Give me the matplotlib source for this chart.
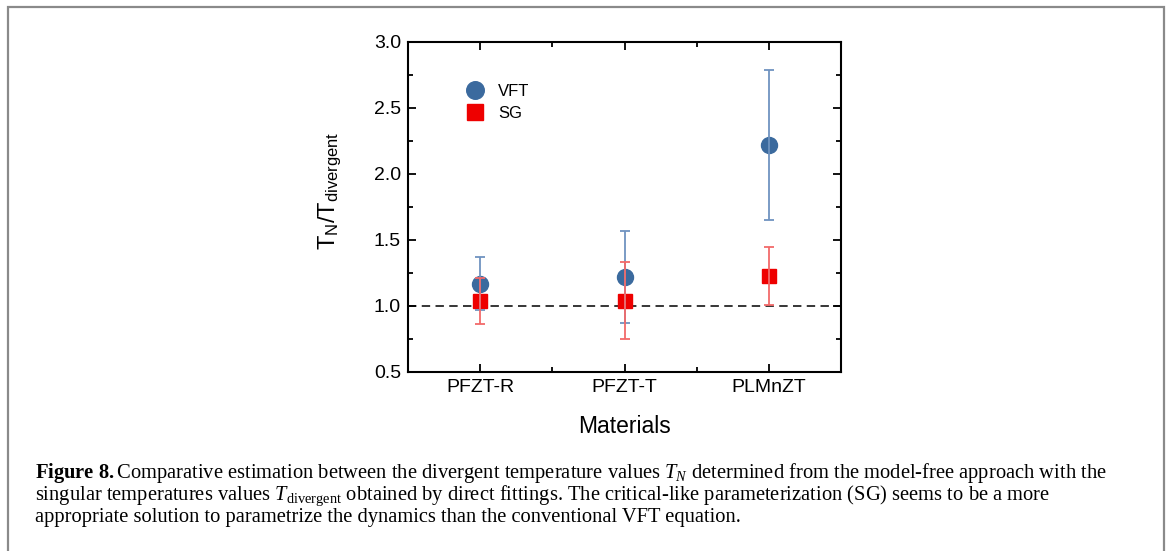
import matplotlib
matplotlib.use("Agg")
import matplotlib.pyplot as plt
from matplotlib.patches import Rectangle
from matplotlib.ticker import FixedLocator, MultipleLocator

plt.rcParams['font.family'] = ['Liberation Sans', 'DejaVu Sans']
plt.rcParams['mathtext.fontset'] = 'custom'
plt.rcParams['mathtext.rm'] = 'Liberation Sans'
plt.rcParams['mathtext.it'] = 'Liberation Serif:italic'
plt.rcParams['mathtext.sf'] = 'Liberation Serif'
plt.rcParams['mathtext.bf'] = 'Liberation Serif:bold'

# ---- data ----
materials = ["PFZT-R", "PFZT-T", "PLMnZT"]
vft_values = [1.17, 1.22, 2.22]
vft_errors = [0.20, 0.35, 0.565]
sg_values = [1.04, 1.04, 1.225]
sg_errors = [0.175, 0.29, 0.22]
yticks = [0.5, 1.0, 1.5, 2.0, 2.5, 3.0]
reference_level = 1.0

W, H = 1170, 551
fig = plt.figure(figsize=(W / 100, H / 100), dpi=100)
fig.patch.set_facecolor('white')

ax = fig.add_axes([408 / W, 1 - 372 / H, (841 - 408) / W, (372 - 42) / H])
x = list(range(1, len(materials) + 1))

blue = '#3b6a9e'
blue_err = '#6f93c0'
red = '#ee0000'
red_err = '#f26a6a'

ax.plot(x, vft_values, 'o', color=blue, ms=11.5, mec=blue, zorder=3, label='VFT')
ax.plot(x, sg_values, 's', color=red, ms=10, mec=red, zorder=4, label='SG')
ax.errorbar(x, vft_values, yerr=vft_errors, fmt='none', ecolor=blue_err,
            elinewidth=1.3, capsize=3.5, capthick=1.3, zorder=5)
ax.errorbar(x, sg_values, yerr=sg_errors, fmt='none', ecolor=red_err,
            elinewidth=1.3, capsize=3.5, capthick=1.3, zorder=6)
ax.axhline(reference_level, color='black', lw=1.1, ls=(0, (5.5, 3.5)), zorder=2)

ax.set_xlim(0.5, 3.5)
ax.set_ylim(0.5, 3.0)
ax.xaxis.set_major_locator(FixedLocator(x))
ax.set_xticklabels(materials)
ax.xaxis.set_minor_locator(FixedLocator([1.5, 2.5]))
ax.set_yticks(yticks)
ax.set_yticklabels([f"{v:.1f}" for v in yticks])
ax.yaxis.set_minor_locator(MultipleLocator(0.25))
ax.tick_params(which='both', direction='in', top=True, right=True,
               labelsize=14, width=1.3, pad=5)
ax.tick_params(which='major', length=6)
ax.tick_params(which='minor', length=3.5)
for s in ax.spines.values():
    s.set_linewidth(1.5)

ax.set_xlabel('Materials', fontsize=16.5, labelpad=14)
ax.set_ylabel(r'$\mathrm{T_N/T_{divergent}}$', fontsize=17)
ax.yaxis.set_label_coords(-0.148, 0.55)

leg = ax.legend(loc='upper left', bbox_to_anchor=(0.1, 0.918), frameon=False,
                fontsize=12, handletextpad=0.9, labelspacing=0.4,
                markerscale=1.1, handlelength=1.0)

# border
fig.add_artist(Rectangle((7.5 / W, -0.1), (1163.5 - 7.5) / W, 1 - 6.5 / H + 0.1,
                         transform=fig.transFigure, fill=False,
                         edgecolor='#8a8a8a', lw=1.6))

# caption
cap_lines = [
    r"$\mathbf{Figure\ 8.}$Comparative estimation between the divergent temperature values $T_N$ determined from the model-free approach with the",
    r"singular temperatures values $T_{\mathsf{divergent}}$ obtained by direct fittings. The critical-like parameterization (SG) seems to be a more",
    r"appropriate solution to parametrize the dynamics than the conventional VFT equation.",
]
cap_baseline = [478, 500, 522]
for line, yy in zip(cap_lines, cap_baseline):
    fig.text(35 / W, 1 - yy / H, line, family='Liberation Serif', fontsize=14.8,
             va='baseline', ha='left')

fig.savefig('out.png', dpi=100, facecolor='white')
